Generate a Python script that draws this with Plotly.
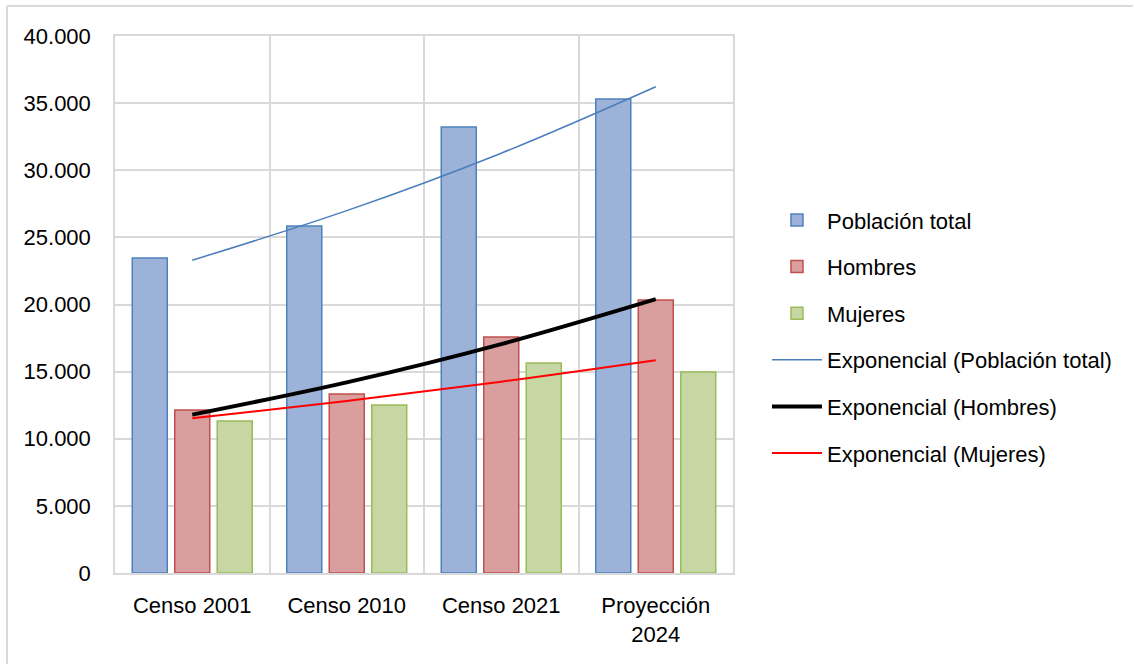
import plotly.graph_objects as go

categories = ["Censo 2001", "Censo 2010", "Censo 2021", "Proyección<br>2024"]
poblacion_total = [23460, 25850, 33220, 35300]
hombres = [12140, 13330, 17580, 20330]
mujeres = [11320, 12510, 15640, 14970]

# Exponential trendline values read at each category centre
trend_total = [23300, 26990, 31270, 36220]
trend_hombres = [11800, 14200, 17050, 20400]
trend_mujeres = [11520, 12810, 14250, 15850]

y_ticks = [0, 5000, 10000, 15000, 20000, 25000, 30000, 35000, 40000]

FONT = "Liberation Sans, Arial, sans-serif"
fig = go.Figure()

fig.add_trace(go.Bar(x=categories, y=poblacion_total, name="Población total",
                     marker=dict(color="#9db2d8", line=dict(color="#4f81bd", width=1.5)),
                     legendgroup="a"))
fig.add_trace(go.Bar(x=categories, y=hombres, name="Hombres",
                     marker=dict(color="#d99e9e", line=dict(color="#c0504d", width=1.5)),
                     legendgroup="b"))
fig.add_trace(go.Bar(x=categories, y=mujeres, name="Mujeres",
                     marker=dict(color="#c6d7a3", line=dict(color="#9bbb59", width=1.5)),
                     legendgroup="c"))
fig.add_trace(go.Scatter(x=categories, y=trend_total, name="Exponencial (Población total)",
                         mode="lines", line=dict(color="#4a7ebb", width=1.5, shape="spline"),
                         legendgroup="d"))
fig.add_trace(go.Scatter(x=categories, y=trend_hombres, name="Exponencial (Hombres)",
                         mode="lines", line=dict(color="#000000", width=4, shape="spline"),
                         legendgroup="e"))
fig.add_trace(go.Scatter(x=categories, y=trend_mujeres, name="Exponencial (Mujeres)",
                         mode="lines", line=dict(color="#ff0000", width=2, shape="spline"),
                         legendgroup="f"))

fig.update_layout(
    width=1134, height=664,
    margin=dict(l=115, r=401, t=36, b=91),
    paper_bgcolor="white", plot_bgcolor="white",
    font=dict(family=FONT, size=22, color="#000000"),
    separators=",.",
    barmode="group", bargap=0.175, bargroupgap=0.176,
    legend=dict(x=1.055, y=0.44, xanchor="left", yanchor="middle", itemwidth=50,
                font=dict(size=22), tracegroupgap=15, bgcolor="rgba(0,0,0,0)"),
    shapes=[
        dict(type="line", xref="paper", yref="paper", x0=-0.1748, x1=-0.1748,
             y0=-0.2, y1=1.0559, line=dict(color="#d9d9d9", width=2)),
        dict(type="line", xref="paper", yref="paper", x0=-0.1748, x1=1.647,
             y0=1.0559, y1=1.0559, line=dict(color="#d9d9d9", width=2)),
    ],
)

fig.update_xaxes(type="category", tickson="boundaries", showgrid=True,
                 gridcolor="#d9d9d9", gridwidth=1.5, ticks="", showline=True,
                 linecolor="#d9d9d9", linewidth=1.5, mirror=True,
                 ticklabelstandoff=12, range=[-0.5, 3.5])
fig.update_yaxes(range=[0, 40000], tickvals=y_ticks, tickformat=",d",
                 showgrid=True, gridcolor="#d9d9d9", gridwidth=1.5,
                 showline=True, linecolor="#d9d9d9", linewidth=1.5, mirror=True,
                 zeroline=False, ticks="", ticklabelstandoff=18)

fig.write_html("out.html", config={"displayModeBar": False},
               post_script="document.body.style.margin='0';")
